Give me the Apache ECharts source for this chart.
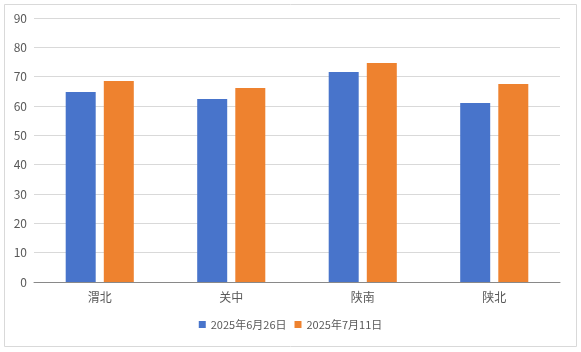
<!DOCTYPE html>
<html lang="zh">
<head>
    <meta charset="UTF-8">
    <script type="text/javascript" src="https://cdn.jsdelivr.net/npm/echarts@6/dist/echarts.min.js"></script>
    <style>
        html, body { margin: 0; padding: 0; background: #fff; }
    </style>
</head>
<body>
    <div id="main" style="width: 581px;height: 352px;"></div>

    <script type="text/javascript">
        var regions = ['渭北', '关中', '陕南', '陕北'];
        var seriesNames = ['2025年6月26日', '2025年7月11日'];
        var june26 = [64.8, 62.4, 71.6, 61.0];
        var july11 = [68.5, 66.1, 74.7, 67.5];
        var yTicks = [0, 10, 20, 30, 40, 50, 60, 70, 80, 90];

        var myChart = echarts.init(document.getElementById('main'));
        var option = {
            color: ['#4874cb', '#ee822f'],
            animation: false,
            textStyle: { fontFamily: '"Noto Sans CJK SC", "Noto Sans", sans-serif' },
            graphic: [{
                type: 'rect',
                shape: { x: 4.5, y: 4.5, width: 572, height: 342 },
                style: { fill: 'none', stroke: '#d9d9d9', lineWidth: 1 },
                silent: true
            }],
            grid: { left: 34, right: 21, top: 18, bottom: 70 },
            legend: {
                data: seriesNames,
                bottom: 17,
                left: 'center',
                icon: 'rect',
                itemWidth: 7,
                itemHeight: 7,
                itemGap: 8,
                textStyle: { color: '#595959', fontSize: 11 }
            },
            xAxis: {
                type: 'category',
                data: regions,
                axisLine: { lineStyle: { color: '#898989' } },
                axisTick: { show: false },
                axisLabel: { color: '#595959', fontSize: 12, margin: 9 }
            },
            yAxis: {
                type: 'value',
                min: yTicks[0],
                max: yTicks[yTicks.length - 1],
                interval: 10,
                axisLine: { show: false },
                axisTick: { show: false },
                axisLabel: { color: '#595959', fontSize: 12, margin: 7 },
                splitLine: { lineStyle: { color: '#d9d9d9' } }
            },
            series: [
                {
                    name: seriesNames[0],
                    type: 'bar',
                    barWidth: 30,
                    barGap: '27%',
                    data: june26
                },
                {
                    name: seriesNames[1],
                    type: 'bar',
                    barWidth: 30,
                    barGap: '27%',
                    data: july11
                }
            ]
        };
        myChart.setOption(option);
    </script>
</body>
</html>
